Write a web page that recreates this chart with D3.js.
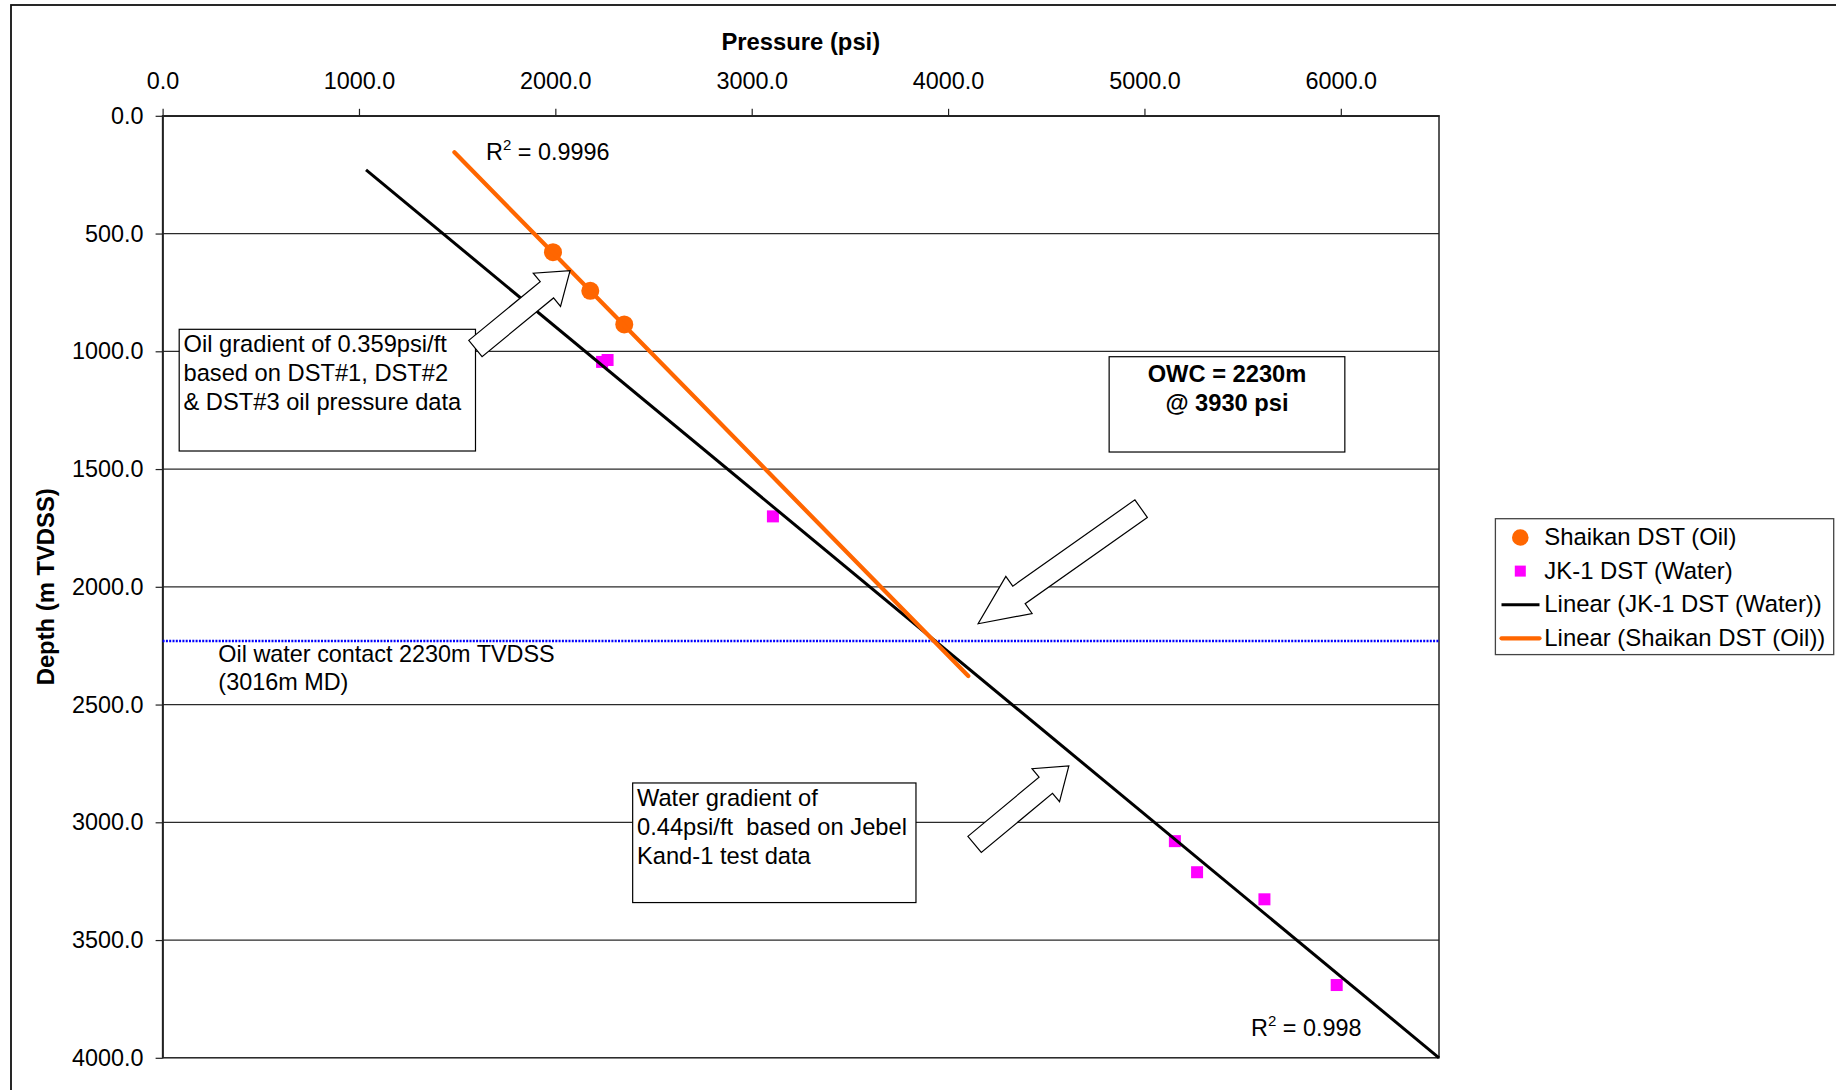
<!DOCTYPE html>
<html>
<head>
<meta charset="utf-8">
<script src="https://cdn.jsdelivr.net/npm/d3@7"></script>
<style>
  html, body { margin: 0; padding: 0; background: #fff; }
  svg { display: block; font-family: "Liberation Sans", Arial, Helvetica, sans-serif; }
</style>
</head>
<body>
<svg id="chart" width="1836" height="1090"></svg>
<script>
// Pressure (psi) against depth (m TVDSS) for the DST readings
const oilPressure   = [1988, 2178, 2351];
const oilDepth      = [579, 743, 886];
const waterPressure = [2238, 2266, 3108, 5155, 5268, 5611, 5979];
const waterDepth    = [1045, 1037, 1701, 3080, 3212, 3327, 3691];

// End points of the linear trend lines
const waterTrendPressure = [1036, 6500];
const waterTrendDepth    = [230, 4000];
const oilTrendPressure   = [1486, 4103];
const oilTrendDepth      = [155, 2379];

// Oil water contact depth
const owcDepth = 2230;

// Axis ticks
const pressureTicks = [0, 1000, 2000, 3000, 4000, 5000, 6000];
const depthTicks    = [0, 500, 1000, 1500, 2000, 2500, 3000, 3500, 4000];

const seriesNames = [
  "Shaikan DST (Oil)",
  "JK-1 DST (Water)",
  "Linear (JK-1 DST (Water))",
  "Linear (Shaikan DST (Oil))"
];
const oilR2 = "0.9996";
const waterR2 = "0.998";

// ---------------------------------------------------------------
const W = 1836, H = 1090;
const FS = 23.4;
const ORANGE = "#FF6600", PINK = "#FF00FF", BLUE = "#0000FF";
const plot = { left: 162.6, top: 115.8, right: 1439, bottom: 1057.8 };

const svg = d3.select("#chart");
svg.append("rect").attr("width", W).attr("height", H).attr("fill", "#fff");

// outer chart frame
svg.append("rect")
  .attr("x", 11).attr("y", 5).attr("width", W + 40).attr("height", H + 40)
  .attr("fill", "none").attr("stroke", "#111").attr("stroke-width", 1.8);

const x = d3.scaleLinear().domain([0, 6500]).range([plot.left, plot.right]);
const y = d3.scaleLinear().domain([0, 4000]).range([plot.top, plot.bottom]);

// horizontal gridlines
svg.append("g").selectAll("line")
  .data(depthTicks.filter(d => d > 0 && d < 4000))
  .join("line")
  .attr("x1", plot.left).attr("x2", plot.right)
  .attr("y1", d => y(d)).attr("y2", d => y(d))
  .attr("stroke", "#2a2a2a").attr("stroke-width", 1.3);

// plot area border
svg.append("rect")
  .attr("x", plot.left).attr("y", plot.top)
  .attr("width", plot.right - plot.left).attr("height", plot.bottom - plot.top)
  .attr("fill", "none").attr("stroke", "#222").attr("stroke-width", 1.5);

// axes
const fmt = d3.format(".1f");
const xAxis = svg.append("g")
  .attr("transform", `translate(0,${plot.top})`)
  .call(d3.axisTop(x).tickValues(pressureTicks).tickFormat(fmt)
        .tickSize(7).tickSizeOuter(0).tickPadding(19.5));
const yAxis = svg.append("g")
  .attr("transform", `translate(${plot.left},0)`)
  .call(d3.axisLeft(y).tickValues(depthTicks).tickFormat(fmt)
        .tickSize(7).tickSizeOuter(0).tickPadding(12));
[xAxis, yAxis].forEach(a => {
  a.attr("font-family", null).attr("font-size", null);
  a.select(".domain").attr("stroke", "#222").attr("stroke-width", 1.5);
  a.selectAll(".tick line").attr("stroke", "#222").attr("stroke-width", 1.2);
  a.selectAll(".tick text").attr("fill", "#000").style("font-size", FS + "px");
});

// axis titles
svg.append("text")
  .attr("x", (plot.left + plot.right) / 2).attr("y", 50)
  .attr("text-anchor", "middle").attr("font-weight", "bold")
  .style("font-size", "23.8px").text("Pressure (psi)");
svg.append("text")
  .attr("transform", `translate(54,${(plot.top + plot.bottom) / 2}) rotate(-90)`)
  .attr("text-anchor", "middle").attr("font-weight", "bold")
  .style("font-size", "23.8px").text("Depth (m TVDSS)");

// oil water contact line
svg.append("line")
  .attr("x1", plot.left).attr("x2", plot.right)
  .attr("y1", y(owcDepth)).attr("y2", y(owcDepth))
  .attr("stroke", BLUE).attr("stroke-width", 2.4)
  .attr("stroke-dasharray", "2,1.3");

// markers
const water = waterPressure.map((p, i) => ({ p, d: waterDepth[i] }));
const oil = oilPressure.map((p, i) => ({ p, d: oilDepth[i] }));
const SQ = 12;
svg.append("g").selectAll("rect").data(water).join("rect")
  .attr("x", d => x(d.p) - SQ / 2).attr("y", d => y(d.d) - SQ / 2)
  .attr("width", SQ).attr("height", SQ).attr("fill", PINK);
svg.append("g").selectAll("circle").data(oil).join("circle")
  .attr("cx", d => x(d.p)).attr("cy", d => y(d.d)).attr("r", 9)
  .attr("fill", ORANGE);

// trend lines
const line = d3.line().x(d => x(d[0])).y(d => y(d[1]));
svg.append("path")
  .attr("d", line(waterTrendPressure.map((p, i) => [p, waterTrendDepth[i]])))
  .attr("fill", "none").attr("stroke", "#000").attr("stroke-width", 3);
svg.append("path")
  .attr("d", line(oilTrendPressure.map((p, i) => [p, oilTrendDepth[i]])))
  .attr("fill", "none").attr("stroke", ORANGE).attr("stroke-width", 4.2)
  .attr("stroke-linecap", "round");

// R-squared labels
function r2Label(p, d, val) {
  const t = svg.append("text")
    .attr("x", x(p)).attr("y", y(d)).style("font-size", FS + "px");
  t.append("tspan").text("R");
  t.append("tspan").attr("dy", -10).style("font-size", "15px").text("2");
  t.append("tspan").attr("dy", 10).text(" = " + val);
}
r2Label(1647, 188, oilR2);
r2Label(5543, 3907, waterR2);

// OWC note
const owcNote = svg.append("text").attr("x", x(284)).attr("y", y(2318.5))
  .style("font-size", FS + "px");
owcNote.append("tspan").attr("x", x(284)).text("Oil water contact 2230m TVDSS");
owcNote.append("tspan").attr("x", x(284)).attr("dy", 28.5).text("(3016m MD)");

// text boxes
function noteBox(p, d, w, h, lines, opts = {}) {
  const bx = x(p), by = y(d);
  svg.append("rect").attr("x", bx).attr("y", by).attr("width", w).attr("height", h)
    .attr("fill", "#fff").attr("stroke", "#000").attr("stroke-width", 1.2);
  const t = svg.append("text").style("font-size", (opts.size || FS) + "px");
  if (opts.bold) t.attr("font-weight", "bold");
  const tx = opts.center ? bx + w / 2 : bx + 4.3;
  if (opts.center) t.attr("text-anchor", "middle");
  lines.forEach((s, i) => {
    t.append("tspan").attr("x", tx).attr("y", by + opts.first + i * opts.step)
      .attr("xml:space", "preserve").text(s);
  });
}
noteBox(84.5, 906.6, 296.3, 121.7,
  ["Oil gradient of 0.359psi/ft", "based on DST#1, DST#2", "& DST#3 oil pressure data"],
  { first: 22.6, step: 29.2, size: 23.7 });
noteBox(2393.8, 2833, 283.3, 119.6,
  ["Water gradient of", "0.44psi/ft  based on Jebel", "Kand-1 test data"],
  { first: 23.2, step: 28.8, size: 23.7 });
noteBox(4820.2, 1023, 235.7, 95.3,
  ["OWC = 2230m", "@ 3930 psi"],
  { first: 25, step: 29.3, bold: true, center: true, size: 23.7 });

// block arrows
function blockArrow(tail, tip, shaftW, headW, headL) {
  const x0 = x(tail[0]), y0 = y(tail[1]), x1 = x(tip[0]), y1 = y(tip[1]);
  const L = Math.hypot(x1 - x0, y1 - y0);
  const ang = Math.atan2(y1 - y0, x1 - x0) * 180 / Math.PI;
  const pts = [[0, -shaftW / 2], [L - headL, -shaftW / 2], [L - headL, -headW / 2], [L, 0],
               [L - headL, headW / 2], [L - headL, shaftW / 2], [0, shaftW / 2]];
  svg.append("polygon")
    .attr("points", pts.map(q => q.join(",")).join(" "))
    .attr("transform", `translate(${x0},${y0}) rotate(${ang})`)
    .attr("fill", "#fff").attr("stroke", "#000").attr("stroke-width", 1.2)
    .attr("stroke-linejoin", "miter");
}
blockArrow([1593, 988], [2075, 658], 21, 43, 30);
blockArrow([4983, 1668], [4153, 2157], 21.5, 45.5, 50);
blockArrow([4135, 3094], [4615, 2761], 21, 43, 30);

// legend
const lg = svg.append("g");
lg.append("rect").attr("x", 1495.4).attr("y", 518.7).attr("width", 338.3).attr("height", 135.9)
  .attr("fill", "#fff").attr("stroke", "#444").attr("stroke-width", 1.3);
const rowY = i => 545 + i * 33.6;
const symX = 1520.3;
seriesNames.forEach((name, i) => {
  const cy = rowY(i) - 7.5;
  if (i === 0) {
    lg.append("circle").attr("cx", symX).attr("cy", cy).attr("r", 8.3).attr("fill", ORANGE);
  } else if (i === 1) {
    lg.append("rect").attr("x", symX - 5.5).attr("y", cy - 5.5).attr("width", 11).attr("height", 11)
      .attr("fill", PINK);
  } else {
    lg.append("line").attr("x1", 1501.5).attr("x2", 1539.5).attr("y1", cy).attr("y2", cy)
      .attr("stroke", i === 2 ? "#000" : ORANGE).attr("stroke-width", i === 2 ? 3 : 4.2)
      .attr("stroke-linecap", i === 2 ? "butt" : "round");
  }
  lg.append("text").attr("x", 1544.3).attr("y", rowY(i))
    .style("font-size", "23.9px").text(name);
});
</script>
</body>
</html>
